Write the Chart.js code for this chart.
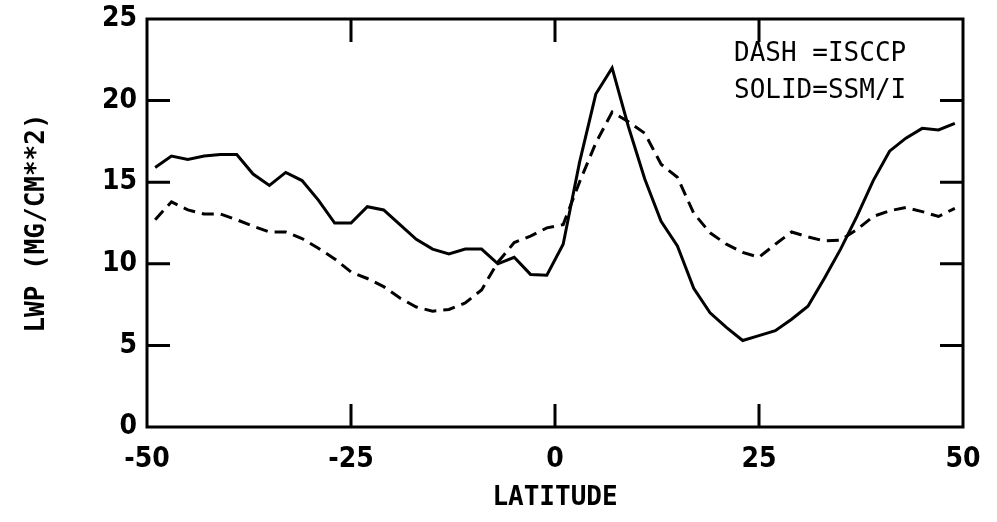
<!DOCTYPE html>
<html>
<head>
<meta charset="utf-8">
<script src="https://cdn.jsdelivr.net/npm/chart.js@4.4.1/dist/chart.umd.min.js"></script>
<style>
    html, body { margin: 0; padding: 0; background: #fff; }
    #wrap { position: relative; width: 997px; height: 522px; }
    #note {
        position: absolute; left: 734px; top: 34px;
        font: 26px "DejaVu Sans Mono", monospace; line-height: 37px;
        color: #000; white-space: pre;
    }
</style>
</head>
<body>
<div id="wrap">
    <canvas id="lwpChart" width="997" height="522"></canvas>
    <div id="note">DASH =ISCCP
SOLID=SSM/I</div>
</div>
<script>
const latitudes = [-49, -47, -45, -43, -41, -39, -37, -35, -33, -31, -29, -27, -25, -23, -21, -19, -17, -15, -13, -11,
    -9, -7, -5, -3, -1, 1, 3, 5, 7, 9, 11, 13, 15, 17, 19, 21, 23, 25, 27, 29,
    31, 33, 35, 37, 39, 41, 43, 45, 47, 49];

const ssmiLwp = [15.9, 16.6, 16.4, 16.6, 16.7, 16.7, 15.5, 14.8, 15.6, 15.1, 13.9, 12.5, 12.5, 13.5, 13.3, 12.4, 11.5, 10.9, 10.6, 10.9,
    10.9, 10.0, 10.4, 9.35, 9.3, 11.2, 16.2, 20.4, 22.0, 18.4, 15.2, 12.6, 11.1, 8.5, 7.0, 6.1, 5.3, 5.6, 5.9, 6.6,
    7.4, 9.1, 10.9, 12.9, 15.1, 16.9, 17.7, 18.3, 18.2, 18.6];

const isccpLwp = [12.7, 13.8, 13.3, 13.05, 13.05, 12.7, 12.3, 11.95, 11.95, 11.55, 10.95, 10.3, 9.5, 9.1, 8.6, 7.9, 7.35, 7.1, 7.2, 7.6,
    8.4, 10.1, 11.3, 11.7, 12.2, 12.4, 15.0, 17.4, 19.3, 18.7, 18.0, 16.1, 15.3, 13.1, 11.9, 11.2, 10.7, 10.4, 11.2, 11.95,
    11.65, 11.4, 11.45, 12.1, 12.9, 13.25, 13.45, 13.2, 12.9, 13.4];

const xTicks = [-50, -25, 0, 25, 50];
const yTicks = [0, 5, 10, 15, 20, 25];

function pontos(valores) {
    return latitudes.map((lat, i) => ({ x: lat, y: valores[i] }));
}

// frame + inward tick marks, like the old plotter output
const molduraPlugin = {
    id: "moldura",
    afterDraw(chart) {
        const { ctx, chartArea: a, scales } = chart;
        const len = 23;
        ctx.save();
        ctx.strokeStyle = "#000";
        ctx.lineWidth = 3;
        ctx.strokeRect(a.left, a.top, a.right - a.left, a.bottom - a.top);
        ctx.beginPath();
        xTicks.slice(1, -1).forEach(v => {
            const px = scales.x.getPixelForValue(v);
            ctx.moveTo(px, a.bottom); ctx.lineTo(px, a.bottom - len);
            ctx.moveTo(px, a.top); ctx.lineTo(px, a.top + len);
        });
        yTicks.slice(1, -1).forEach(v => {
            const py = scales.y.getPixelForValue(v);
            ctx.moveTo(a.left, py); ctx.lineTo(a.left + len, py);
            ctx.moveTo(a.right, py); ctx.lineTo(a.right - len, py);
        });
        ctx.stroke();
        ctx.restore();
    }
};

const tickFont = { family: "'Liberation Sans Narrow', 'DejaVu Sans Condensed', sans-serif", size: 28, weight: "bold" };
const titleFont = { family: "'DejaVu Sans Mono', monospace", size: 26, weight: "bold" };

new Chart(document.getElementById("lwpChart"), {
    type: "line",
    data: {
        datasets: [{
            label: "SSM/I",
            data: pontos(ssmiLwp),
            borderColor: "#000",
            borderWidth: 3,
            pointRadius: 0,
            tension: 0
        }, {
            label: "ISCCP",
            data: pontos(isccpLwp),
            borderColor: "#000",
            borderWidth: 3,
            borderDash: [12, 7],
            pointRadius: 0,
            tension: 0
        }]
    },
    options: {
        responsive: false,
        animation: false,
        layout: { padding: { top: 19, right: 34, left: 0, bottom: 0 } },
        plugins: {
            legend: { display: false },
            tooltip: { enabled: false }
        },
        scales: {
            x: {
                type: "linear",
                min: -50,
                max: 50,
                afterBuildTicks: s => { s.ticks = xTicks.map(v => ({ value: v })); },
                afterFit: s => { s.height = 95; s.paddingLeft = 0; s.paddingRight = 0; },
                grid: { display: false, drawTicks: false },
                border: { display: false },
                ticks: { color: "#000", font: tickFont, padding: 16, maxRotation: 0 },
                title: { display: true, text: "LATITUDE", color: "#000", font: titleFont, padding: { top: 0, bottom: 8 } }
            },
            y: {
                min: 0,
                max: 25,
                afterBuildTicks: s => { s.ticks = yTicks.map(v => ({ value: v })); },
                afterFit: s => { s.width = 147; s.paddingTop = 0; s.paddingBottom = 0; },
                grid: { display: false, drawTicks: false },
                border: { display: false },
                ticks: { color: "#000", font: tickFont, padding: 10 },
                title: { display: true, text: "LWP (MG/CM**2)", color: "#000", font: titleFont, padding: { top: 22, bottom: 0 } }
            }
        }
    },
    plugins: [molduraPlugin]
});
</script>
</body>
</html>
